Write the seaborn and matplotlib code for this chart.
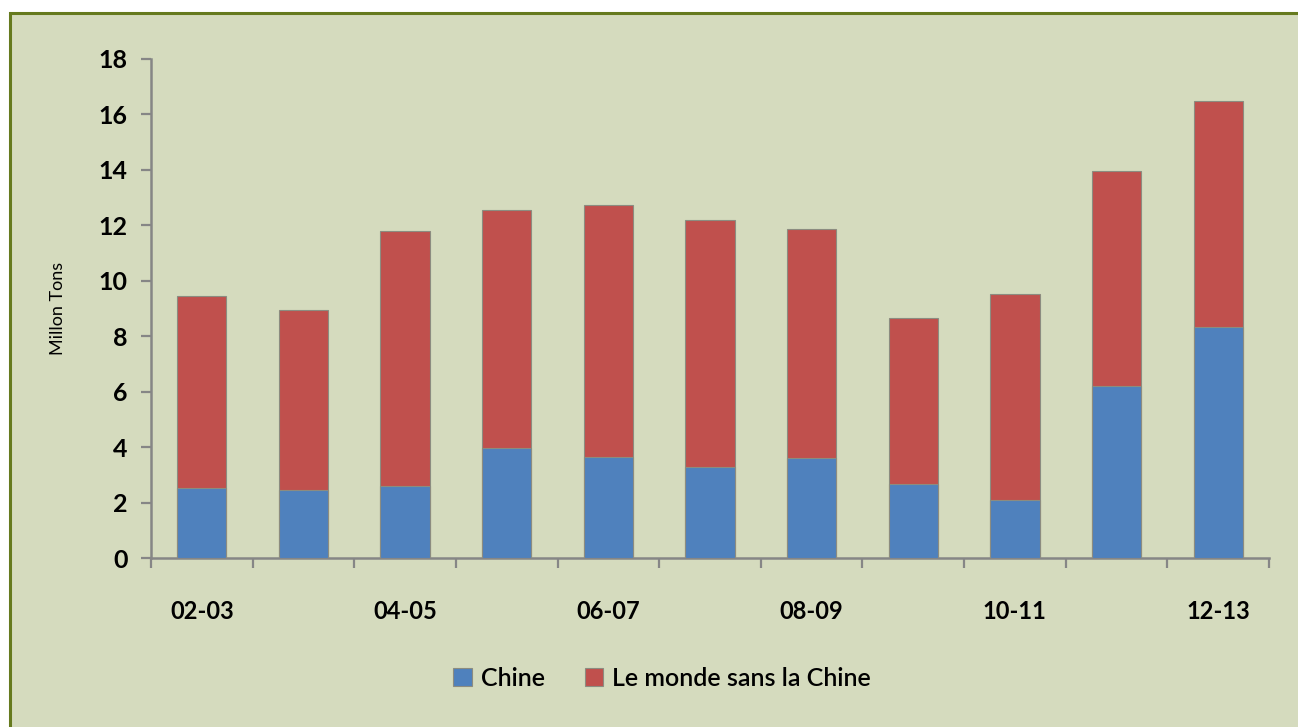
import matplotlib
matplotlib.use("Agg")
import matplotlib.pyplot as plt
import seaborn as sns
import pandas as pd
import numpy as np
from matplotlib.patches import Rectangle, Patch

seasons = ["02-03", "03-04", "04-05", "05-06", "06-07", "07-08",
           "08-09", "09-10", "10-11", "11-12", "12-13"]
chine = [2.53, 2.45, 2.6, 3.97, 3.64, 3.28, 3.61, 2.67, 2.09, 6.2, 8.34]
monde_sans_chine = [6.92, 6.5, 9.2, 8.58, 9.09, 8.92, 8.26, 5.99, 7.43, 7.76, 8.15]
shown_labels = ["02-03", "04-05", "06-07", "08-09", "10-11", "12-13"]
yticks = [0, 2, 4, 6, 8, 10, 12, 14, 16, 18]

BG = "#D5DBBE"
BLUE = "#4F81BD"
RED = "#C0504D"
AXC = "#868686"

sns.set_theme(style="white")
plt.rcParams["font.family"] = ["Lato", "DejaVu Sans"]
plt.rcParams["text.color"] = "black"
plt.rcParams["axes.labelcolor"] = "black"

df = pd.DataFrame({"season": seasons, "chine": chine, "reste": monde_sans_chine})
df["total"] = df["chine"] + df["reste"]

fig = plt.figure(figsize=(12.98, 7.27), dpi=100)
fig.patch.set_facecolor("white")
fig.patches.append(Rectangle((9.5 / 1298, -0.05), 1.2, 1 - 12.5 / 727 + 0.05,
                             transform=fig.transFigure, facecolor=BG,
                             edgecolor="#667A1E", linewidth=2.2, zorder=-10))

ax = fig.add_axes([151 / 1298, 1 - 558 / 727, (1269 - 151) / 1298, (558 - 59) / 727])
ax.set_facecolor("none")

sns.barplot(data=df, x="season", y="total", color=RED, saturation=1, width=0.485,
            edgecolor="#8C8C80", linewidth=0.8, ax=ax, zorder=2)
sns.barplot(data=df, x="season", y="chine", color=BLUE, saturation=1, width=0.485,
            edgecolor="#8C8C80", linewidth=0.8, ax=ax, zorder=3)

ax.set_xlim(-0.5, len(seasons) - 0.5)
ax.set_ylim(0, 18)
ax.set_yticks(yticks)
ax.set_yticklabels([str(v) for v in yticks], fontsize=18, fontweight="bold")

ax.set_xticks(range(len(seasons)))
ax.set_xticklabels([s if s in shown_labels else "" for s in seasons],
                   fontsize=17, fontweight="bold")
ax.set_xticks(np.arange(-0.5, len(seasons)), minor=True)
ax.tick_params(axis="x", which="major", bottom=True, length=0, pad=30, labelcolor="black")
ax.tick_params(axis="x", which="minor", bottom=True, length=7, width=1.6,
               color=AXC, direction="out")
ax.tick_params(axis="y", which="major", left=True, length=7, width=1.6, color=AXC,
               direction="out", pad=10, labelcolor="black")

for s in ["top", "right"]:
    ax.spines[s].set_visible(False)
for s in ["left", "bottom"]:
    ax.spines[s].set_color(AXC)
    ax.spines[s].set_linewidth(1.8)

ax.set_xlabel("")
ax.set_ylabel("Millon Tons", fontsize=13, color="black")
ax.yaxis.set_label_coords(-0.076, 0.5)
ax.grid(False)

handles = [Patch(facecolor=BLUE, edgecolor="#8C8C80", linewidth=0.8),
           Patch(facecolor=RED, edgecolor="#8C8C80", linewidth=0.8)]
leg = fig.legend(handles, ["Chine", "Le monde sans la Chine"], loc="center",
                 bbox_to_anchor=(662 / 1298, 1 - 678 / 727), ncol=2, frameon=False,
                 prop={"size": 18, "weight": "semibold"}, handlelength=0.75,
                 handleheight=0.75, handletextpad=0.35, columnspacing=1.6)
for t in leg.get_texts():
    t.set_color("black")

fig.savefig("out.png", dpi=100, facecolor=fig.get_facecolor())
